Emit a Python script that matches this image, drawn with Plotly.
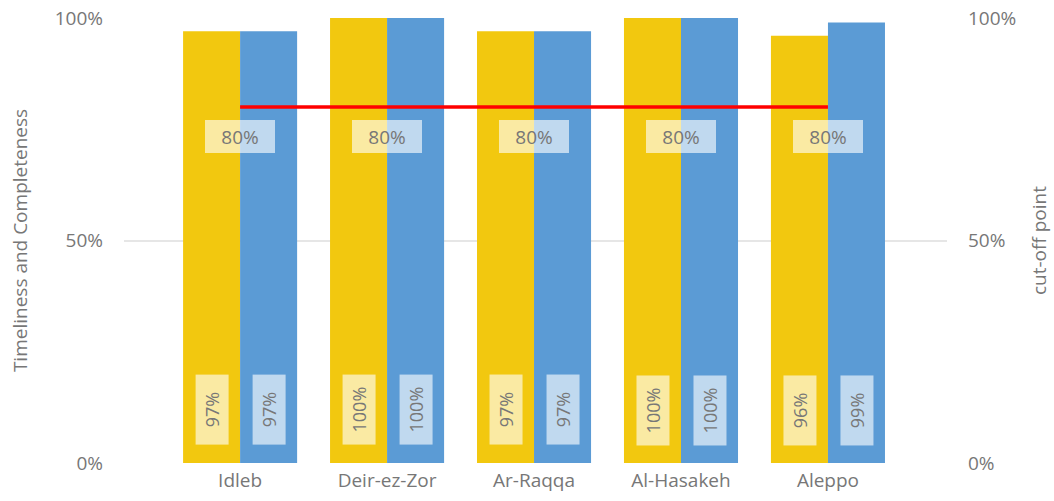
import plotly.graph_objects as go

categories = ["Idleb", "Deir-ez-Zor", "Ar-Raqqa", "Al-Hasakeh", "Aleppo"]
timeliness = [0.97, 1.00, 0.97, 1.00, 0.96]
completeness = [0.97, 1.00, 0.97, 1.00, 0.99]
cutoff = [0.80, 0.80, 0.80, 0.80, 0.80]

YELLOW = "#F2C80F"
BLUE = "#5B9BD5"
GRAY = "#777777"
FONT = "Open Sans"

fig = go.Figure()
fig.add_trace(go.Bar(x=categories, y=timeliness, name="Timeliness", marker_color=YELLOW,
                     marker_line_width=0))
fig.add_trace(go.Bar(x=categories, y=completeness, name="Completeness", marker_color=BLUE,
                     marker_line_width=0))
fig.add_trace(go.Scatter(x=categories, y=cutoff, name="cut-off point", mode="lines",
                         line=dict(color="#FF0000", width=3.5), yaxis="y2"))

annotations = []
for i, c in enumerate(categories):
    for vals, shift in ((timeliness, -28.5), (completeness, 28.5)):
        annotations.append(dict(
            x=c, y=0, xref="x", yref="y", xshift=shift, yshift=53,
            text=f"{vals[i]*100:.0f}%", showarrow=False, textangle=-90,
            font=dict(family=FONT, size=18, color=GRAY),
            bgcolor="rgba(255,255,255,0.62)", width=62, height=25, borderpad=4,
            borderwidth=0, xanchor="center", yanchor="middle"))
    annotations.append(dict(
        x=c, y=cutoff[i], xref="x", yref="y2", yshift=-29,
        text=f"{cutoff[i]*100:.0f}%", showarrow=False,
        font=dict(family=FONT, size=19, color=GRAY),
        bgcolor="rgba(255,255,255,0.62)", width=62, height=25, borderpad=4,
        borderwidth=0, xanchor="center", yanchor="middle"))

fig.update_layout(
    width=1054, height=501,
    margin=dict(l=124, r=107, t=18, b=38),
    paper_bgcolor="white", plot_bgcolor="white",
    showlegend=False,
    barmode="group", bargap=0.224, bargroupgap=0,
    font=dict(family=FONT, color=GRAY, size=19),
    xaxis=dict(range=[-0.79, 4.81], showgrid=False, showline=False, zeroline=False,
               automargin=False,
               tickfont=dict(size=19, color=GRAY), ticks="", ticklabelstandoff=4),
    yaxis=dict(range=[0, 1], tickvals=[0, 0.5, 1], tickformat=".0%", automargin=False,
               showgrid=True, gridcolor="#E6E6E6", gridwidth=1.5, zeroline=False,
               tickfont=dict(size=19, color=GRAY), ticklabelstandoff=20,
               title=dict(text="Timeliness and Completeness", font=dict(size=19, color=GRAY),
                          standoff=22)),
    yaxis2=dict(range=[0, 1], tickvals=[0, 0.5, 1], tickformat=".0%", overlaying="y",
                side="right", showgrid=False, zeroline=False, automargin=False,
                tickfont=dict(size=19, color=GRAY), ticklabelstandoff=20,
                title=dict(text="cut-off point", font=dict(size=19, color=GRAY), standoff=17)),
    annotations=annotations,
)

fig.write_html("out.html", config={"displayModeBar": False},
               post_script="document.body.style.margin='0';document.body.style.padding='0';")
